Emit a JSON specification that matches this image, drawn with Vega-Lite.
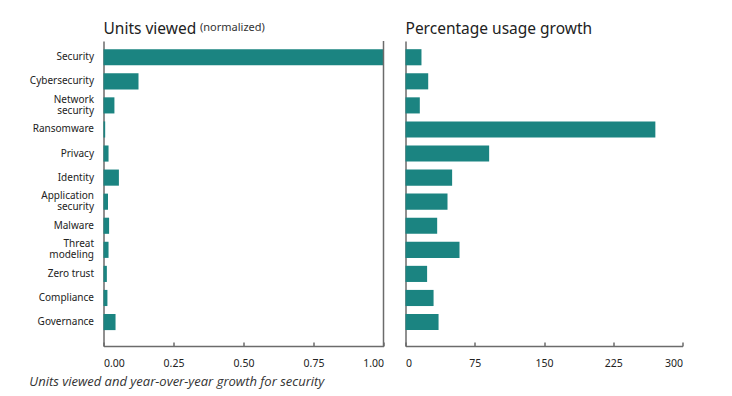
{
  "$schema": "https://vega.github.io/schema/vega-lite/v6.json",
  "background": "white",
  "padding": {"left": 28.5, "top": 21, "right": 10, "bottom": 6},
  "config": {
    "font": "Noto Sans",
    "view": {"stroke": null},
    "axis": {"grid": false, "domainColor": "#6b6b6b", "domainWidth": 1.5, "tickColor": "#6b6b6b", "tickWidth": 1.5, "labelColor": "#222222", "labelFontSize": 10.5, "labelFont": "Noto Sans"}
  },
  "title": {"text": "Units viewed and year-over-year growth for security", "orient": "bottom", "anchor": "start", "frame": "bounds", "font": "Open Sans", "fontStyle": "italic", "fontWeight": "normal", "fontSize": 13, "color": "#333333", "offset": 7},
  "data": {"values": [
    {"topic": "Security", "units": 1.0, "growth": 17.3},
    {"topic": "Cybersecurity", "units": 0.125, "growth": 24.6},
    {"topic": "Network\nsecurity", "units": 0.039, "growth": 15.5},
    {"topic": "Ransomware", "units": 0.006, "growth": 270.6},
    {"topic": "Privacy", "units": 0.018, "growth": 90.6},
    {"topic": "Identity", "units": 0.055, "growth": 50.5},
    {"topic": "Application\nsecurity", "units": 0.016, "growth": 45.5},
    {"topic": "Malware", "units": 0.02, "growth": 34.3},
    {"topic": "Threat\nmodeling", "units": 0.018, "growth": 58.5},
    {"topic": "Zero trust", "units": 0.012, "growth": 23.4},
    {"topic": "Compliance", "units": 0.014, "growth": 30.4},
    {"topic": "Governance", "units": 0.043, "growth": 35.8}
  ]},
  "bounds": "flush",
  "spacing": 22,
  "hconcat": [
    {
      "width": 280,
      "height": 305,
      "title": {"text": "Units viewed", "anchor": "start", "frame": "group", "font": "Noto Sans", "fontSize": 15.5, "fontWeight": "normal", "color": "#222222", "offset": -16},
      "layer": [
        {
          "mark": {"type": "bar", "color": "#1b8481"},
          "encoding": {
            "y": {"field": "topic", "type": "nominal", "sort": null,
              "scale": {"paddingInner": 0.33, "paddingOuter": 0.5, "align": 0.34},
              "axis": {"title": null, "ticks": false, "labelPadding": 10, "labelFontSize": 10, "labelLineHeight": 11,
                "labelOffset": {"condition": {"test": "indexof(datum.value, '\\n') >= 0", "value": -5.5}, "value": 0},
                "labelExpr": "split(datum.label, '\\n')"}},
            "x": {"field": "units", "type": "quantitative", "scale": {"domain": [0, 1]},
              "axis": {"title": null, "values": [0, 0.25, 0.5, 0.75, 1], "format": ".2f", "tickSize": -4, "labelPadding": 16}}
          }
        },
        {
          "data": {"values": [{}]},
          "mark": {"type": "rule", "color": "#6b6b6b", "strokeWidth": 1.5},
          "encoding": {
            "x": {"datum": 1, "type": "quantitative",
              "axis": {"orient": "top", "domain": false, "ticks": false, "labels": false, "title": "(normalized)", "titleFontSize": 11, "titleFontWeight": "normal", "titleColor": "#333333", "titleFont": "Noto Sans", "titleAnchor": "start", "titleAlign": "left", "titleBaseline": "alphabetic", "titleX": 96, "titleY": -11}}
          }
        }
      ],
      "resolve": {"axis": {"x": "independent"}}
    },
    {
      "width": 277,
      "height": 305,
      "title": {"text": "Percentage usage growth", "anchor": "start", "frame": "group", "font": "Noto Sans", "fontSize": 15.5, "fontWeight": "normal", "color": "#222222", "offset": 4},
      "mark": {"type": "bar", "color": "#1b8481"},
      "encoding": {
        "y": {"field": "topic", "type": "nominal", "sort": null,
          "scale": {"paddingInner": 0.33, "paddingOuter": 0.5, "align": 0.34},
          "axis": {"title": null, "ticks": false, "labels": false}},
        "x": {"field": "growth", "type": "quantitative", "scale": {"domain": [0, 300]},
          "axis": {"title": null, "values": [0, 75, 150, 225, 300], "tickSize": -4, "labelPadding": 16}}
      }
    }
  ]
}
